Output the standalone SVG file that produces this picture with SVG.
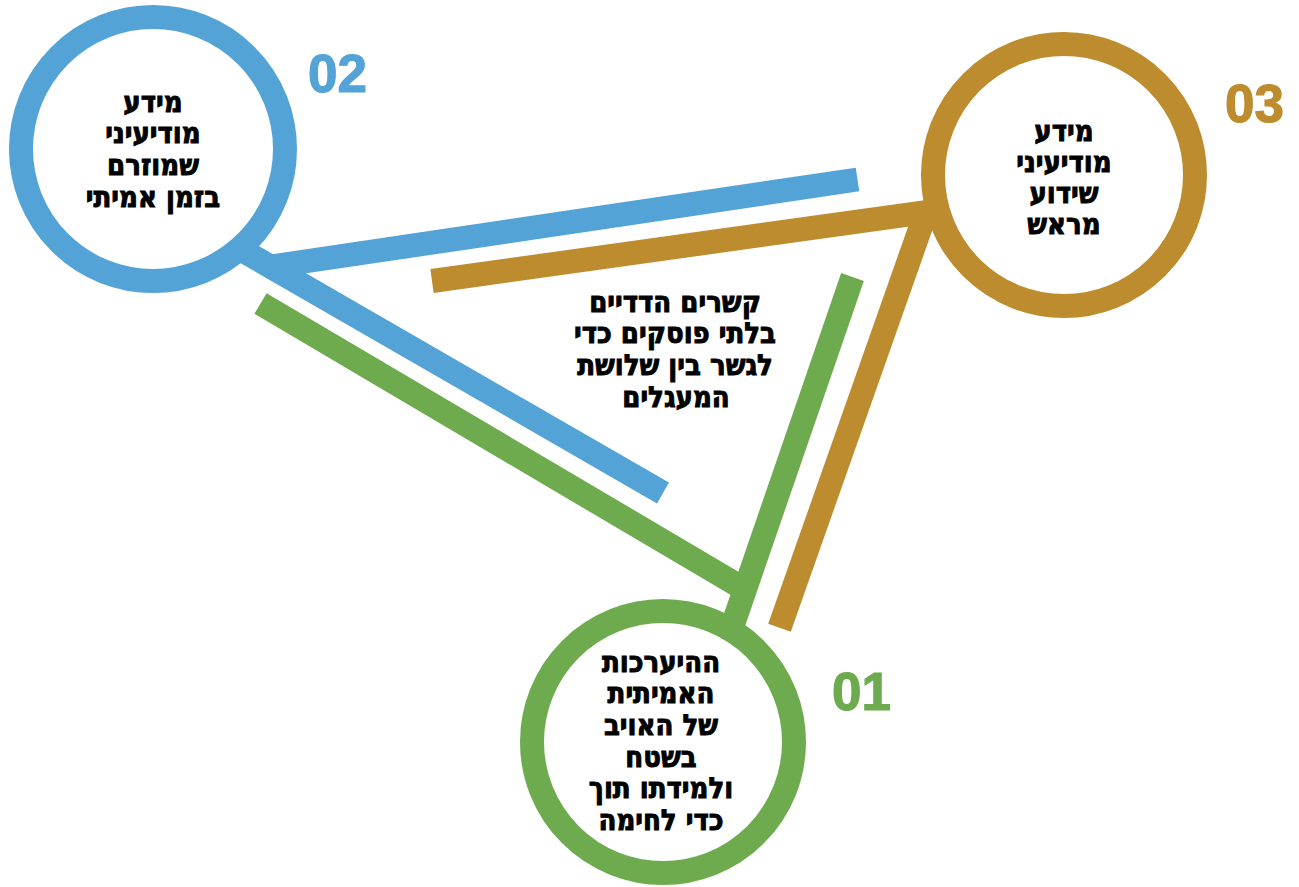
<svg xmlns="http://www.w3.org/2000/svg" width="1299" height="887" viewBox="0 0 1299 887">
  <style>
    .ring { fill: #ffffff; stroke-width: 24; }
    .band { stroke-width: 24; stroke-linecap: butt; fill: none; }
    .blue { stroke: #53A3D7; }
    .gold { stroke: #BD8C2E; }
    .green { stroke: #6EAB4F; }
    .lbl { font-family: "DejaVu Sans Condensed", "DejaVu Sans", sans-serif; font-weight: bold; font-size: 29px; fill: #000000; stroke: #000000; stroke-width: 0.9; text-anchor: middle; }
    .num { font-family: "Liberation Sans", "DejaVu Sans", sans-serif; font-weight: bold; font-size: 53px; stroke-width: 1.2; }
  </style>
  <rect x="0" y="0" width="1299" height="887" fill="#ffffff"/>

  <g id="connectors">
    <line class="band blue" x1="274" y1="266" x2="857.5" y2="179.5"/>
    <line class="band blue" x1="240" y1="249" x2="663" y2="493"/>
    <line class="band gold" x1="935" y1="210.8" x2="432" y2="281"/>
    <line class="band gold" x1="928.5" y1="205" x2="779.5" y2="627.8"/>
    <line class="band green" x1="852.5" y1="277" x2="731" y2="630"/>
    <line class="band green" x1="260.5" y1="303.5" x2="745" y2="589.5"/>
  </g>

  <g id="node-02">
    <circle class="ring blue" cx="153" cy="149" r="132"/>
    <text class="lbl" x="153" y="112">מידע</text>
    <text class="lbl" x="153" y="143">מודיעיני</text>
    <text class="lbl" x="153" y="175">שמוזרם</text>
    <text class="lbl" x="153" y="207">בזמן אמיתי</text>
    <text class="num" x="308" y="92" fill="#53A3D7" stroke="#53A3D7">02</text>
  </g>

  <g id="node-03">
    <circle class="ring gold" cx="1064" cy="175" r="131"/>
    <text class="lbl" x="1064" y="141">מידע</text>
    <text class="lbl" x="1064" y="172">מודיעיני</text>
    <text class="lbl" x="1064" y="203">שידוע</text>
    <text class="lbl" x="1064" y="234">מראש</text>
    <text class="num" x="1225" y="122" fill="#BD8C2E" stroke="#BD8C2E">03</text>
  </g>

  <g id="node-01">
    <circle class="ring green" cx="663" cy="742" r="131"/>
    <text class="lbl" x="661" y="672">ההיערכות</text>
    <text class="lbl" x="661" y="703">האמיתית</text>
    <text class="lbl" x="661" y="735">של האויב</text>
    <text class="lbl" x="661" y="767">בשטח</text>
    <text class="lbl" x="661" y="798">ולמידתו תוך</text>
    <text class="lbl" x="661" y="830">כדי לחימה</text>
    <text class="num" x="832" y="710" fill="#6EAB4F" stroke="#6EAB4F">01</text>
  </g>

  <g id="center-label">
    <text class="lbl" x="675" y="312">קשרים הדדיים</text>
    <text class="lbl" x="675" y="343">בלתי פוסקים כדי</text>
    <text class="lbl" x="675" y="375">לגשר בין שלושת</text>
    <text class="lbl" x="676" y="407">המעגלים</text>
  </g>
</svg>
